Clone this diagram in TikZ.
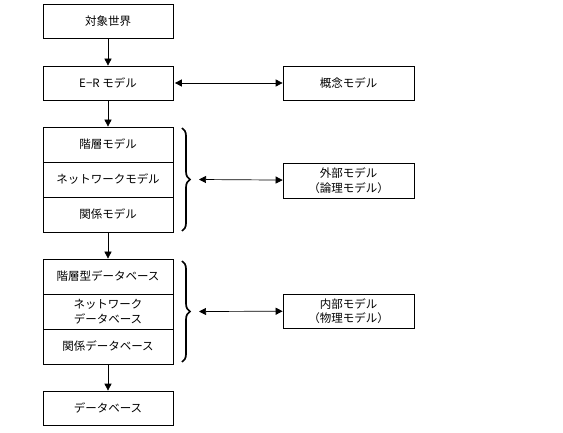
\documentclass[tikz,border=0pt]{standalone}
\usepackage{fontspec}
\setmainfont{Noto Sans CJK JP}
\usetikzlibrary{arrows.meta, decorations.pathreplacing, positioning}

\tikzset{
    box/.style   = {draw, line width=0.7pt, minimum width=130pt, minimum height=34pt, inner sep=1pt,
                    align=center, font=\fontsize{11.5pt}{14.5pt}\selectfont},
    cell/.style  = {box, minimum height=35pt},
    flow/.style  = {-{Triangle[length=7pt, width=7pt]}, line width=0.7pt},
    link/.style  = {{Triangle[length=7pt, width=7pt]}-{Triangle[length=7pt, width=7pt]}, line width=0.7pt},
    curly/.style = {decorate, decoration={brace, amplitude=8pt}, line width=1.7pt},
}

\begin{document}
\begin{tikzpicture}[x=1pt, y=-1pt]
    \useasboundingbox (0, 0) rectangle (563, 433);

    \node[box] (world) at (108, 21.5) {対象世界};
    \node[box] (er) at (108, 83) {E−R モデル};
    \foreach \name/\txt [count=\i] in {hier/階層モデル, net/ネットワークモデル, rel/関係モデル}
        \node[cell] (\name) at (108, 109.5 + 35*\i) {\txt};
    \foreach \name/\txt [count=\i] in {hdb/階層型データベース, ndb/{ネットワーク\\データベース}, rdb/関係データベース}
        \node[cell] (\name) at (108, 241.5 + 35*\i) {\txt};
    \node[box] (db) at (108, 408) {データベース};

    \node[box, minimum width=131pt] (concept) at (348.5, 83) {概念モデル};
    \node[box, minimum width=131pt, minimum height=35pt] (ext) at (348.5, 180.5) {外部モデル\\（論理モデル）};
    \node[box, minimum width=131pt] (int) at (348.5, 311) {内部モデル\\（物理モデル）};

    \draw[flow] (world) -- (er);
    \draw[flow] (er) -- (hier);
    \draw[flow] (rel) -- (hdb);
    \draw[flow] (rdb) -- (db);

    % braces round the two stacks
    \draw[curly] (182, 128) -- (182, 231); \coordinate (tip1) at (199, 179.5);
    \draw[curly] (182, 261) -- (182, 362); \coordinate (tip2) at (199, 311.5);

    \draw[link, shorten <=1.5pt] (er) -- (concept); %  E-R -- concept
    \draw[link] (tip1) -- (ext);                    %  models -- external
    \draw[link] (tip2) -- (int);                    %  databases -- internal
\end{tikzpicture}
\end{document}
